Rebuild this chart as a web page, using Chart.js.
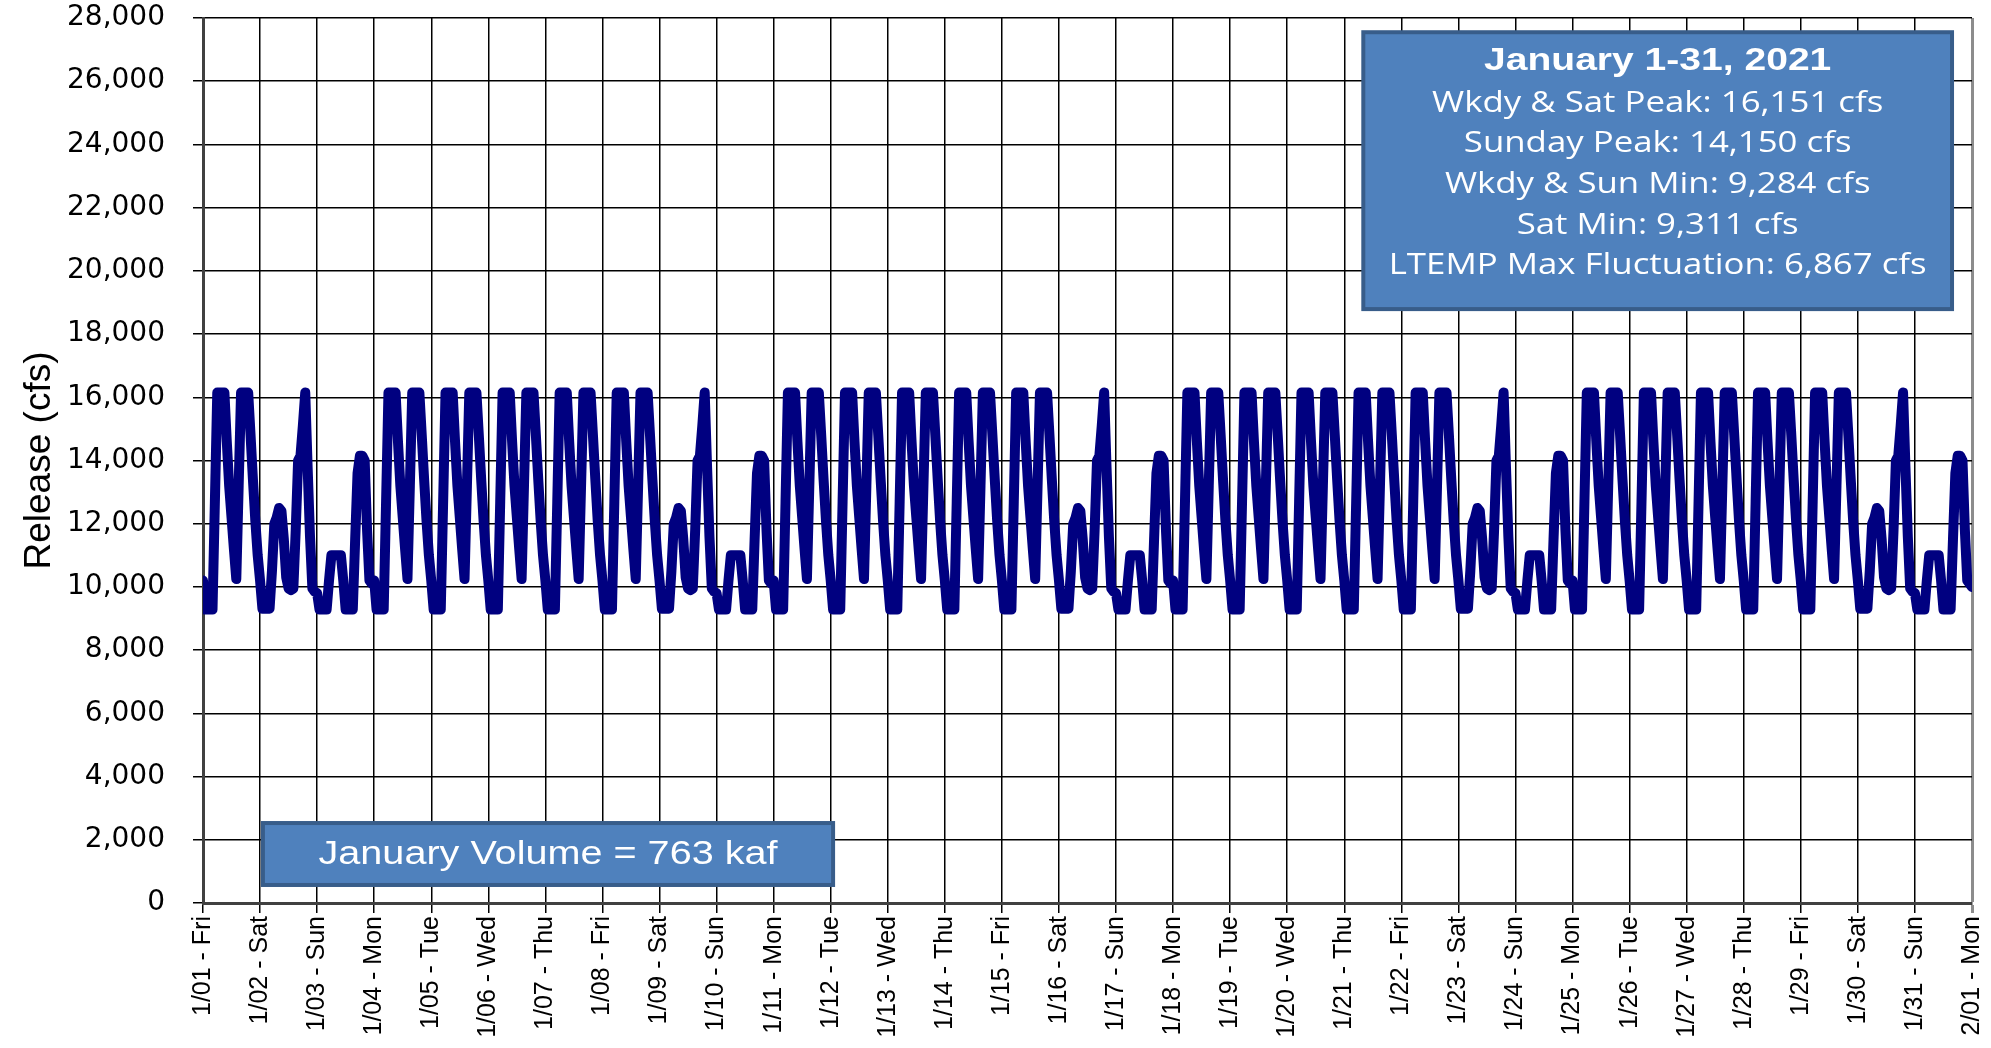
<!DOCTYPE html>
<html lang="en">
<head>
  <meta charset="UTF-8" />
  <title>January 2021 Hourly Release</title>
  <script src="https://cdn.jsdelivr.net/npm/chart.js@4.4.1/dist/chart.umd.min.js"></script>
  <style>
    * { box-sizing: border-box; margin: 0; padding: 0; }
    body { background: #ffffff; width: 1991px; height: 1048px; overflow: hidden; }
    .chart-wrapper { position: relative; width: 1991px; height: 1048px; }
  </style>
</head>
<body>
  <div class="chart-wrapper">
    <canvas id="releaseChart"></canvas>
  </div>

  <script>
    // x tick labels, one per day (the last one closes the month)
    const dayLabels = [
      '1/01 - Fri', '1/02 - Sat', '1/03 - Sun', '1/04 - Mon', '1/05 - Tue', '1/06 - Wed', '1/07 - Thu',
      '1/08 - Fri', '1/09 - Sat', '1/10 - Sun', '1/11 - Mon', '1/12 - Tue', '1/13 - Wed', '1/14 - Thu',
      '1/15 - Fri', '1/16 - Sat', '1/17 - Sun', '1/18 - Mon', '1/19 - Tue', '1/20 - Wed', '1/21 - Thu',
      '1/22 - Fri', '1/23 - Sat', '1/24 - Sun', '1/25 - Mon', '1/26 - Tue', '1/27 - Wed', '1/28 - Thu',
      '1/29 - Fri', '1/30 - Sat', '1/31 - Sun', '2/01 - Mon'
    ];

    // hourly releases (cfs), hour 0..23
    const weekdayHours = [
      10200, 9284, 9284, 9284, 9284, 12700, 16151, 16151, 16151, 16151, 14600, 13200,
      12200, 11200, 10250, 13200, 16151, 16151, 16151, 16151, 14800, 13400, 12100, 11000
    ];
    const saturdayHours = [
      10200, 9311, 9311, 9311, 9311, 10500, 12000, 12200, 12500, 12400, 11500, 10300,
      9950, 9900, 9950, 11800, 14000, 14150, 15100, 16151, 13800, 11600, 9950, 9850
    ];
    const sundayHours = [
      9800, 9284, 9284, 9284, 9284, 10200, 11000, 11000, 11000, 11000, 11000, 10200,
      9284, 9284, 9284, 9284, 11500, 13600, 14150, 14150, 14000, 11800, 10200, 10100
    ];
    const endOfMonthValue = 10000; // 2/01 00:00

    const yMax = 28000;
    const yStep = 2000;

    const infoTitle = 'January 1-31, 2021';
    const infoLines = [
      'Wkdy & Sat Peak: 16,151 cfs',
      'Sunday Peak: 14,150 cfs',
      'Wkdy & Sun Min: 9,284 cfs',
      'Sat Min: 9,311 cfs',
      'LTEMP Max Fluctuation: 6,867 cfs'
    ];
    const volumeText = 'January Volume = 763 kaf';

    // build the hourly series day by day
    const hourly = [];
    dayLabels.slice(0, 31).forEach((label, d) => {
      const profile = label.endsWith('Sat') ? saturdayHours
                    : label.endsWith('Sun') ? sundayHours
                    : weekdayHours;
      profile.forEach((v, h) => hourly.push({ x: d * 24 + h, y: v }));
    });
    hourly.push({ x: 31 * 24, y: endOfMonthValue });

    function stretchedText(ctx, text, cx, cy, font, sx) {
      ctx.save();
      ctx.translate(cx, cy);
      ctx.scale(sx, 1);
      ctx.font = font;
      ctx.fillStyle = '#ffffff';
      ctx.textAlign = 'center';
      ctx.textBaseline = 'middle';
      ctx.fillText(text, 0, 0);
      ctx.restore();
    }

    function drawBox(ctx, left, top, right, bottom) {
      ctx.save();
      ctx.fillStyle = '#4f81bd';
      ctx.strokeStyle = '#385d8a';
      ctx.lineWidth = 4;
      ctx.fillRect(left, top, right - left, bottom - top);
      ctx.strokeRect(left, top, right - left, bottom - top);
      ctx.restore();
    }

    // the two blue text boxes
    const textBoxes = {
      id: 'textBoxes',
      afterDatasetsDraw(chart) {
        const { ctx, scales: { x, y } } = chart;

        // info box, top right
        const l = x.getPixelForValue(488), r = x.getPixelForValue(735.6);
        const t = y.getPixelForValue(27550), b = y.getPixelForValue(18790);
        drawBox(ctx, l, t, r, b);
        const cx = (l + r) / 2;
        stretchedText(ctx, infoTitle, cx, t + 29, 'bold 32px "Liberation Sans"', 1.22);
        infoLines.forEach((line, i) => {
          stretchedText(ctx, line, cx, t + 71 + i * 40.6, '30px "Open Sans"', 1.16);
        });

        // volume box, bottom left
        const vl = x.getPixelForValue(25.2), vr = x.getPixelForValue(265);
        const vt = y.getPixelForValue(2530), vb = y.getPixelForValue(570);
        drawBox(ctx, vl, vt, vr, vb);
        stretchedText(ctx, volumeText, (vl + vr) / 2, (vt + vb) / 2 + 1, '33px "Liberation Sans"', 1.2);
      }
    };

    new Chart(document.getElementById('releaseChart'), {
      type: 'line',
      data: {
        datasets: [{
          label: 'Release',
          data: hourly,
          borderColor: '#000080',
          borderWidth: 10,
          borderJoinStyle: 'round',
          borderCapStyle: 'round',
          pointRadius: 0,
          tension: 0,
          fill: false
        }]
      },
      options: {
        responsive: true,
        maintainAspectRatio: false,
        animation: false,
        layout: { padding: { top: 18, right: 19, left: 0, bottom: 0 } },
        plugins: {
          legend: { display: false },
          tooltip: { enabled: false }
        },
        scales: {
          x: {
            type: 'linear',
            min: 0,
            max: 31 * 24,
            afterFit: scale => {
              scale.height = 145;
              // let layout.padding decide the room at the sides
              scale.paddingLeft = 0;
              scale.paddingRight = 0;
            },
            ticks: {
              stepSize: 24,
              autoSkip: false,
              maxRotation: 90,
              minRotation: 90,
              padding: 3,
              color: '#000000',
              font: { family: '"Liberation Sans", Arial, sans-serif', size: 25 },
              callback: v => dayLabels[Math.round(v / 24)]
            },
            grid: {
              color: ctx => ctx.index === 31 ? '#8c8c8c' : '#000000',
              lineWidth: ctx => ctx.index === 31 ? 3 : 1.5,
              tickLength: 10
            },
            border: { color: '#404040', width: 3 }
          },
          y: {
            min: 0,
            max: yMax,
            afterFit: scale => {
              scale.width = 203;
              scale.paddingTop = 0;
              scale.paddingBottom = 0;
            },
            ticks: {
              stepSize: yStep,
              padding: 28,
              color: '#000000',
              font: { family: '"DejaVu Sans", sans-serif', size: 28 },
              callback: v => v.toLocaleString('en-US')
            },
            grid: { color: '#000000', lineWidth: 1.5, tickLength: 10 },
            border: { color: '#404040', width: 3 },
            title: {
              display: true,
              text: 'Release (cfs)',
              color: '#000000',
              font: { family: '"Liberation Sans", Arial, sans-serif', size: 37 },
              padding: { top: 18, bottom: 0 }
            }
          }
        }
      },
      plugins: [textBoxes]
    });
  </script>
</body>
</html>
